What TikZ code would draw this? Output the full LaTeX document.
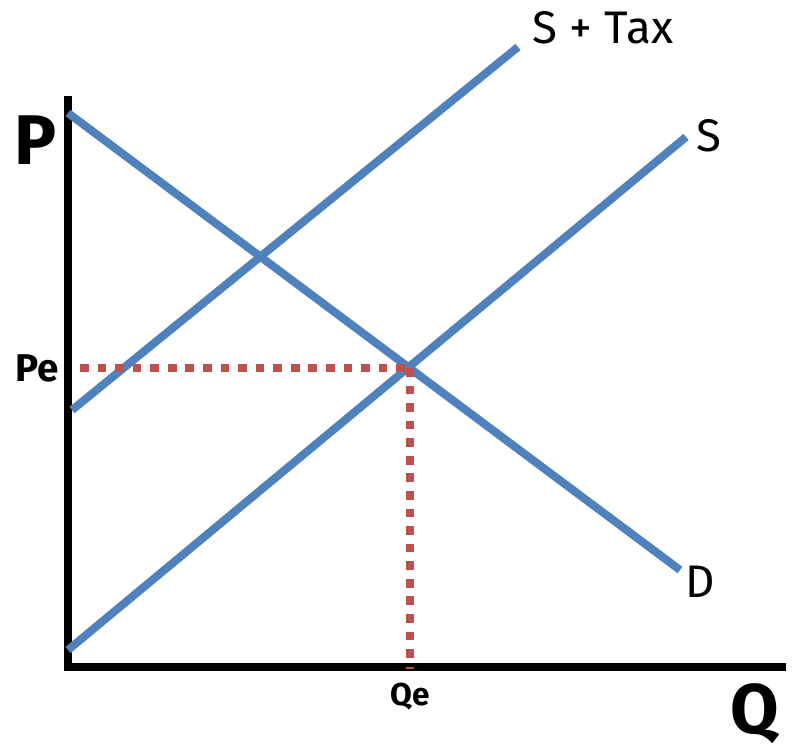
\documentclass[tikz,border=0pt]{standalone}
\usepackage{fontspec}
\setmainfont{Fira Sans}
\usepackage{tikz}
\usetikzlibrary{positioning, calc}
\definecolor{curveblue}{HTML}{4F81BD}
\definecolor{dotred}{HTML}{C0504D}

\begin{document}
\begin{tikzpicture}[x=0.02cm, y=-0.02cm,
    axis/.style={line width=4pt, color=black, line cap=rect},
    curve/.style={line width=4.6pt, color=curveblue},
    guide/.style={line width=5pt, color=dotred, dash pattern=on 5pt off 5pt},
    lbl/.style={inner sep=0pt, font=\fontsize{26}{30}\selectfont},
    big/.style={inner sep=0pt, font=\fontsize{40}{44}\selectfont\bfseries}
]
    \useasboundingbox (0,0) rectangle (792,756);

    % --- Axes ---
    \coordinate (top) at (68, 100);
    \coordinate (origin) at (68, 667);
    \coordinate (right) at (782, 667);
    \draw[axis] (top) -- (origin) -- (right);

    % --- Curves ---
    \coordinate (d0) at (68, 113);
    \coordinate (d1) at (680, 570);
    \coordinate (s0) at (68, 650);
    \coordinate (s1) at (686, 137);
    \coordinate (t0) at (72, 410);
    \coordinate (t1) at (518, 47);
    \draw[curve] (d0) -- (d1);
    \draw[curve] (s0) -- (s1);
    \draw[curve] (t0) -- (t1);

    % --- Equilibrium ---
    \coordinate (eq) at (410, 368);
    \coordinate (pe) at (80, 368);
    \coordinate (qe) at (410, 669);
    \draw[guide] (pe) -- (eq);
    \draw[guide] (eq) -- (qe);

    % --- Labels ---
    \node[big] (plbl) at (36, 140) {P};
    \node[big] (qlbl) at (755, 714) {Q};
    \node[lbl, font=\fontsize{22}{26}\selectfont\bfseries] (pelbl) at (37, 368) {Pe};
    \node[lbl, font=\fontsize{18}{22}\selectfont\bfseries] (qelbl) at (410, 697) {Qe};
    \node[lbl] (dlbl) at (700, 582) {D};
    \node[lbl] (slbl) at (709, 136) {S};
    \node[lbl] (tlbl) at (603, 28) {S + Tax};
\end{tikzpicture}
\end{document}
